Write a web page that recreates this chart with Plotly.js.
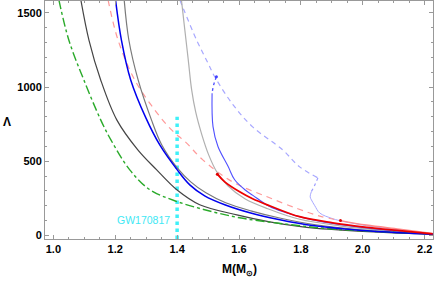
<!DOCTYPE html>
<html>
<head>
<meta charset="utf-8">
<script src="https://cdn.plot.ly/plotly-3.0.1.min.js"></script>
<style>html,body{margin:0;padding:0;background:#fff;}#chart{width:436px;height:281px;}</style>
</head>
<body>
<div id="chart"></div>
<script>
// ---- data (mass M in solar masses, tidal deformability Λ) ----
const greenM = [1.018,1.050,1.0985,1.153,1.186,1.247,1.312,1.392,1.489,1.602,1.741,1.893,2.055,2.226];
const greenL = [1586,1317,1048,779,644,442,308,234,173,119,79,45,25,11];

const darkM = [1.089,1.115,1.153,1.205,1.273,1.334,1.399,1.473,1.593,1.699,1.806,1.958,2.119,2.226];
const darkL = [1586,1317,1048,779,577,442,308,207,139,92,58,32,16,8];

const blueM = [1.201,1.220,1.250,1.299,1.344,1.4005,1.441,1.489,1.554,1.635,1.732,1.845,1.990,2.119,2.226];
const blueL = [1586,1317,1048,792,610,442,341,267,207,153,106,65,35,18,8];

const grayM = [1.229,1.244,1.274,1.317,1.3505,1.4005,1.444,1.493,1.557,1.638,1.735,1.848,1.990,2.119,2.226];
const grayL = [1586,1317,1048,779,610,456,361,287,220,166,116,72,38,20,9];

const lgrayM = [1.414,1.425,1.436,1.447,1.460,1.480,1.502,1.528,1.564,1.619,1.693,1.796,1.925,2.071,2.226];
const lgrayL = [1586,1384,1183,981,832,678,543,429,335,247,180,109,65,33,10];

const redM = [1.530,1.554,1.602,1.644,1.699,1.796,1.903,2.013,2.119,2.226];
const redL = [413,361,294,247,200,126,85,55,32,11];

const pinkDashM = [1.177,1.209,1.263,1.328,1.382,1.430,1.483,1.58,1.689,1.79,1.861,1.928];
const pinkDashL = [1586,1317,1048,845,711,624,509,360,262,180,130,100];
const pinkM = [1.928,2.012,2.119,2.226];
const pinkL = [100,70,42,13];

const lbDashM = [1.409,1.463,1.500,1.522,1.581,1.644,1.741,1.796,1.855];
const lbDashL = [1586,1317,1160,1068,880,732,577,462,388];
const lbDotM = [1.855,1.845,1.834];
const lbDotL = [388,340,296];
const lbM = [1.834,1.830,1.834,1.845,1.861,1.90,1.925,2.012,2.119,2.226];
const lbL = [296,260,240,200,151,115,100,66,38,11];

const mbDotM = [1.527,1.518,1.513];
const mbDotL = [1070,1014,958];
const mbM = [1.513,1.516,1.532,1.565,1.586,1.619,1.645,1.699,1.75,1.807,1.904,2.012,2.12,2.226];
const mbL = [958,733,599,464,375,308,270,195,155,120,80,50,27,9];

const gwM = [1.4,1.4];
const gwL = [-24,800];
const gwLabel = 'GW170817';
const gwLabelPos = [1.385,101];

const xTicks = [1.0,1.2,1.4,1.6,1.8,2.0,2.2];
const xTickText = ['1.0','1.2','1.4','1.6','1.8','2.0','2.2'];
const yTicks = [0,500,1000,1500];
const yTickText = ['0','500','1000','1500'];

// ---- traces ----
function line(x,y,color,width,dash,opacity){
  return {x:x,y:y,type:'scatter',mode:'lines',line:{color:color,width:width,dash:dash||'solid',shape:'spline',smoothing:1},opacity:opacity||1,hoverinfo:'skip',showlegend:false};
}
const traces = [
  line(gwM,gwL,'#3ff0f8',3.5,'dot'),
  line(lbDashM,lbDashL,'#a8a8ff',1.2,'5px,4px'),
  line(lbDotM,lbDotL,'#9b9bff',1.2,'dot'),
  line(lbM,lbL,'#a8a8ff',1),
  line(pinkDashM,pinkDashL,'#ff9a9a',1.2,'6px,5px'),
  line(pinkM,pinkL,'#ff8a8a',1.4),
  line(lgrayM,lgrayL,'#b0b0b0',1.2),
  line(mbDotM,mbDotL,'#4a4aff',1.3,'dot'),
  line(mbM,mbL,'#5050ff',1.1),
  line(grayM,grayL,'#7a7a7a',1.2),
  line(darkM,darkL,'#444444',1.2),
  line(greenM,greenL,'#2aaa2a',1.4,'dashdot'),
  line(blueM,blueL,'#0000ee',1.5),
  line(redM,redL,'#ee0000',1.8),
  {x:[redM[0],pinkM[0]],y:[redL[0],pinkL[0]],type:'scatter',mode:'markers',marker:{color:'#e00000',size:3},hoverinfo:'skip',showlegend:false},
  {x:[mbDotM[0]],y:[mbDotL[0]],type:'scatter',mode:'markers',marker:{color:'#4040ff',size:3},hoverinfo:'skip',showlegend:false}
];

const tickFont = {family:'Liberation Sans, Arial, sans-serif',size:11,color:'#000',weight:'bold'};
const layout = {
  width:436,height:281,
  margin:{l:45,r:3,t:1,b:42},
  paper_bgcolor:'#fff',plot_bgcolor:'#fff',
  showlegend:false,
  xaxis:{range:[0.973,2.227],tickvals:xTicks,ticktext:xTickText,showgrid:false,zeroline:false,
    showline:true,linecolor:'#999999',linewidth:1,mirror:'allticks',ticks:'inside',ticklen:4,tickcolor:'#999999',
    tickfont:tickFont,minor:{dtick:0.05,tick0:1.0,ticks:'inside',ticklen:2,tickcolor:'#999999',showgrid:false}},
  yaxis:{range:[-24,1580],tickvals:yTicks,ticktext:yTickText,showgrid:false,zeroline:false,
    showline:true,linecolor:'#999999',linewidth:1,mirror:'allticks',ticks:'inside',ticklen:4,tickcolor:'#999999',
    tickfont:tickFont,minor:{dtick:100,tick0:0,ticks:'inside',ticklen:2,tickcolor:'#999999',showgrid:false}},
  annotations:[
    {text:'Λ',xref:'paper',yref:'paper',x:-0.098,y:0.492,showarrow:false,xanchor:'center',yanchor:'middle',
     font:{family:'Liberation Sans, Arial, sans-serif',size:12,color:'#000',weight:'bold'}},
    {text:'M(M<sub>⊙</sub>)',xref:'paper',yref:'paper',x:0.5,y:-0.13,showarrow:false,xanchor:'center',yanchor:'middle',
     font:{family:'Liberation Sans, Arial, sans-serif',size:12,color:'#000',weight:'bold'}},
    {text:gwLabel,xref:'x',yref:'y',x:gwLabelPos[0],y:gwLabelPos[1],showarrow:false,xanchor:'right',yanchor:'middle',
     font:{family:'Liberation Sans, Arial, sans-serif',size:10.5,color:'#3ee8f4'}}
  ]
};
Plotly.newPlot('chart',traces,layout,{staticPlot:true,displayModeBar:false});
</script>
</body>
</html>
